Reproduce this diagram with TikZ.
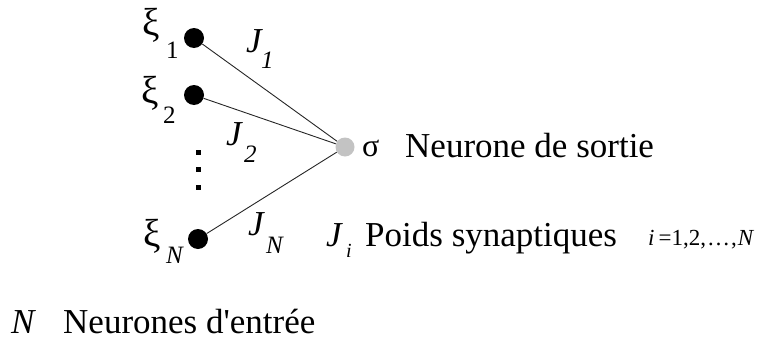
\documentclass[tikz,border=0pt]{standalone}
\usepackage{fontspec}
\setmainfont{Liberation Serif}[Ligatures=TeXOff]
\definecolor{outgray}{RGB}{195,195,195}
\tikzset{
  dotnode/.style={circle, fill=black, inner sep=0pt, minimum size=20pt},
  outnode/.style={circle, fill=outgray, inner sep=0pt, minimum size=19pt},
  vdot/.style={rectangle, fill=black, inner sep=0pt, minimum size=5pt},
  conn/.style={line width=0.9pt, black!85},
  lbl/.style={inner sep=0pt, anchor=base west, font=\fontsize{35}{42}\selectfont},
  xilbl/.style={inner sep=0pt, anchor=base west, font=\fontsize{39}{46}\selectfont},
  sublbl/.style={inner sep=0pt, anchor=base west, font=\fontsize{25}{30}\selectfont},
}
\begin{document}
\begin{tikzpicture}[x=1pt,y=-1pt]
\useasboundingbox (0,0) rectangle (773,340);
% neurons
\node[dotnode] (x1) at (194,38) {};
\node[dotnode] (x2) at (194,95) {};
\node[dotnode] (xN) at (198,239) {};
\node[outnode] (s) at (345,147) {};
\draw[conn] (x1) -- (s);
\draw[conn] (x2) -- (s);
\draw[conn] (xN) -- (s);
% vertical dots
\node[vdot] (d1) at (198,152) {};
\node[vdot] (d2) at (198,169) {};
\node[vdot] (d3) at (198,187) {};
% input labels
\node[xilbl] (lx1) at (142,35) {ξ};
\node[sublbl] (lx1s) at (166,58) {1};
\node[xilbl] (lx2) at (141,103) {ξ};
\node[sublbl] (lx2s) at (163,123) {2};
\node[xilbl] (lxN) at (143,246) {ξ};
\node[sublbl] (lxNs) at (166,263) {\textit{N}};
% weight labels
\node[lbl] (lJ1) at (246,52) {\textit{J}};
\node[sublbl] (lJ1s) at (261,68) {\textit{1}};
\node[lbl] (lJ2) at (226,145) {\textit{J}};
\node[sublbl] (lJ2s) at (244,162) {\textit{2}};
\node[lbl] (lJN) at (248,235) {\textit{J}};
\node[sublbl] (lJNs) at (266,253) {\textit{N}};
% output
\node[lbl, font=\fontsize{32}{38}\selectfont] (sig) at (362,156) {σ};
\node[lbl] (out) at (405,157) {Neurone de sortie};
% weights legend
\node[lbl] (lJi) at (326,246) {\textit{J}};
\node[sublbl, font=\fontsize{20}{24}\selectfont] (lJis) at (346,257) {\textit{i}};
\node[lbl] (w) at (365,246) {Poids synaptiques};
\node[lbl, font=\fontsize{23}{28}\selectfont] (idx) at (648,245) {\textit{i}\hspace{4pt}=1,2,\hspace{1pt}…\hspace{1pt},\hspace{1pt}\textit{N}};
% input legend
\node[lbl] (nN) at (11,333) {\textit{N}};
\node[lbl] (inp) at (63,333) {Neurones d'entrée};
\end{tikzpicture}
\end{document}
